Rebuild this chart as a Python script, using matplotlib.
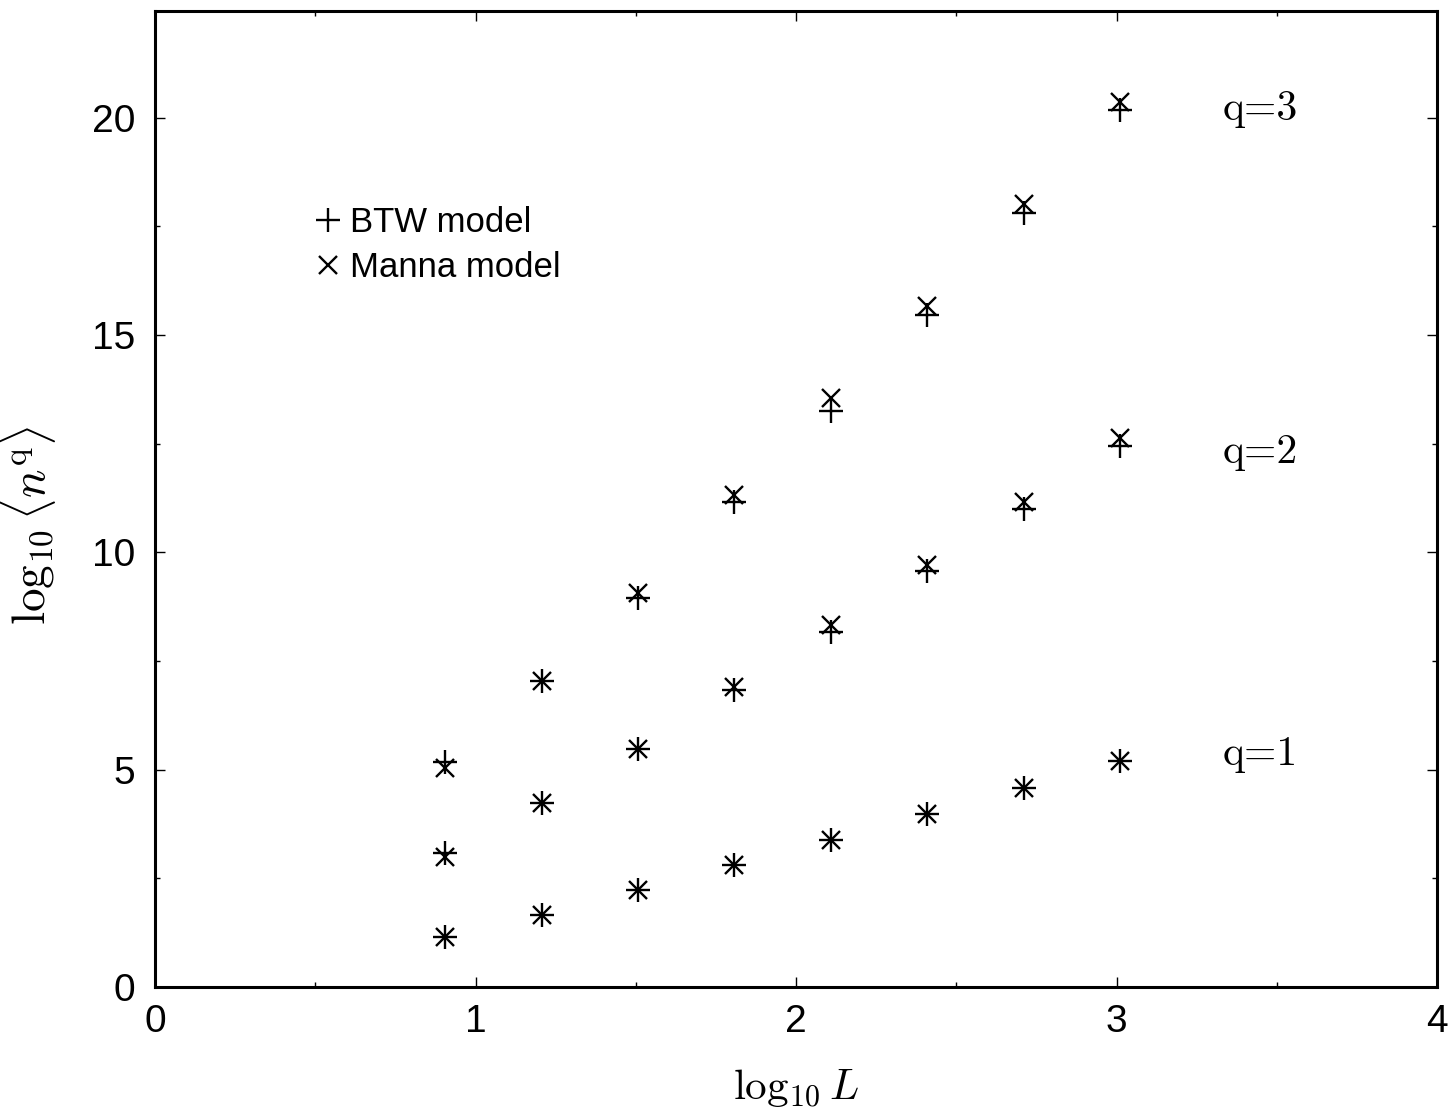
import matplotlib
matplotlib.use("Agg")
import matplotlib.pyplot as plt
from matplotlib.ticker import MultipleLocator

plt.rcParams['mathtext.fontset'] = 'cm'
plt.rcParams['font.family'] = ['Liberation Sans', 'DejaVu Sans']

# data
log_L = [0.905, 1.206, 1.507, 1.808, 2.109, 2.410, 2.711, 3.011]
btw_q1 = [1.14, 1.66, 2.22, 2.80, 3.38, 3.98, 4.57, 5.20]
manna_q1 = [1.14, 1.66, 2.22, 2.80, 3.38, 3.98, 4.57, 5.20]
btw_q2 = [3.08, 4.24, 5.47, 6.84, 8.16, 9.56, 11.00, 12.45]
manna_q2 = [3.00, 4.24, 5.47, 6.91, 8.32, 9.70, 11.16, 12.63]
btw_q3 = [5.17, 7.05, 8.95, 11.15, 13.25, 15.46, 17.81, 20.18]
manna_q3 = [5.04, 7.05, 9.06, 11.32, 13.55, 15.66, 18.00, 20.35]
q_labels = ["q=1", "q=2", "q=3"]
q_label_y = [5.35, 12.3, 20.2]

fig = plt.figure(figsize=(14.51, 11.2), dpi=100)
ax = fig.add_axes([155/1451, 1-987/1120, (1437-155)/1451, (987-11)/1120])

mk = dict(linestyle='none', color='black', markeredgewidth=1.7)
ax.plot(log_L, btw_q1, marker='+', markersize=17, label='BTW model', **mk)
ax.plot(log_L, btw_q2, marker='+', markersize=17, **mk)
ax.plot(log_L, btw_q3, marker='+', markersize=17, **mk)
ax.plot(log_L, manna_q1, marker='x', markersize=13, label='Manna model', **mk)
ax.plot(log_L, manna_q2, marker='x', markersize=13, **mk)
ax.plot(log_L, manna_q3, marker='x', markersize=13, **mk)

for lab, yv in zip(q_labels, q_label_y):
    ax.text(3.33, yv, lab, fontsize=30, family=['cmr10', 'DejaVu Serif'],
            ha='left', va='center')

ax.set_xlim(0, 4)
ax.set_ylim(0, 22.45)
ax.xaxis.set_major_locator(MultipleLocator(1))
ax.xaxis.set_minor_locator(MultipleLocator(0.5))
ax.yaxis.set_major_locator(MultipleLocator(5))
ax.yaxis.set_minor_locator(MultipleLocator(2.5))
ax.tick_params(which='both', direction='in', top=True, right=True, labelsize=28, width=1.0)
ax.tick_params(which='major', length=7.5)
ax.tick_params(axis='y', which='major', pad=14)
ax.tick_params(axis='x', which='major', pad=12)
ax.tick_params(which='minor', length=3.6)
for s in ax.spines.values():
    s.set_linewidth(2.2)

ax.set_xlabel(r'$\log_{10} L$', fontsize=31, labelpad=20)
ax.set_ylabel(r'$\log_{10}\langle n^{\mathrm{q}}\rangle$', fontsize=34)
ax.yaxis.set_label_coords(-0.076, 0.473)

ax.legend(loc='upper left', bbox_to_anchor=(0.125, 0.80), frameon=False,
          fontsize=25, handlelength=0.75, handletextpad=0.25, labelspacing=0.33,
          borderaxespad=0, borderpad=0)

fig.savefig('out.png', dpi=100)
